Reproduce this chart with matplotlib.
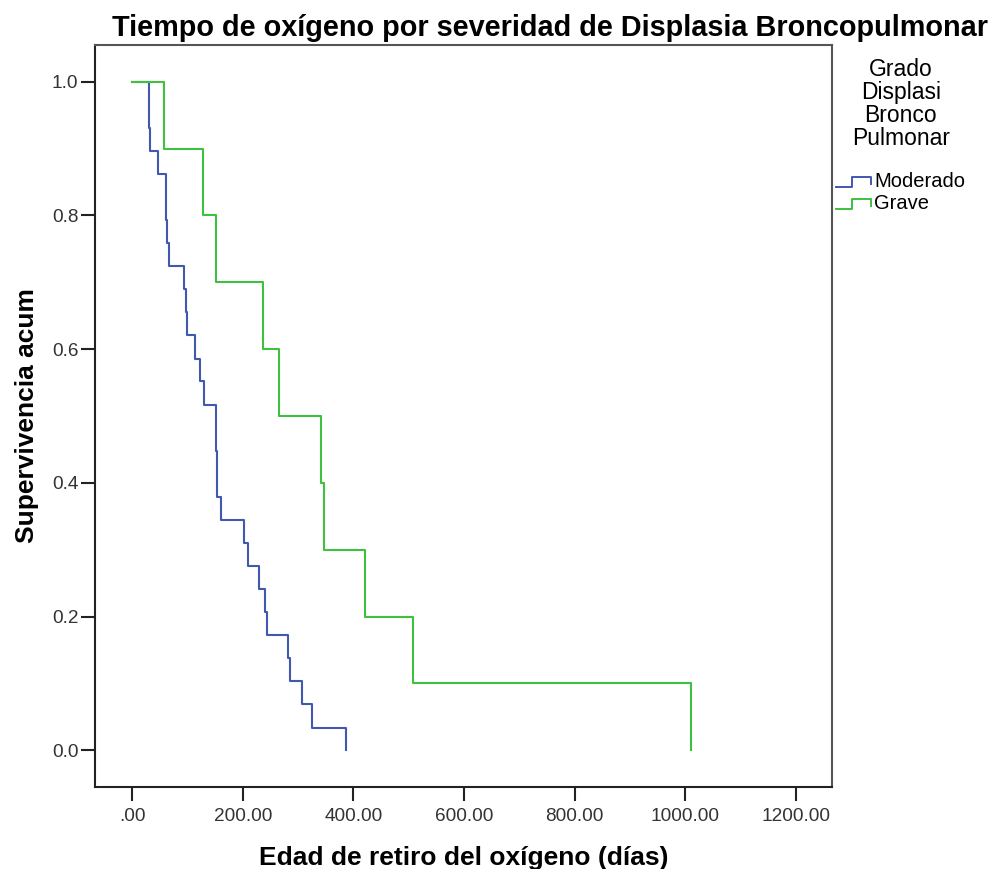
import matplotlib
matplotlib.use("Agg")
import matplotlib.pyplot as plt
from matplotlib.lines import Line2D
from matplotlib.legend_handler import HandlerBase

plt.rcParams['font.family'] = ['Liberation Sans', 'DejaVu Sans']

# Kaplan-Meier steps (days, cumulative survival)
mod_t = [0, 30, 31, 33, 47, 61, 62, 63, 66, 94, 98, 99, 114, 123, 130,
         152, 152, 153, 153, 160, 202, 209, 230, 240, 243, 281, 286, 308, 326, 386]
mod_s = [1.0, 0.966, 0.931, 0.897, 0.862, 0.828, 0.793, 0.759, 0.724, 0.690,
         0.655, 0.621, 0.586, 0.552, 0.517, 0.483, 0.448, 0.414, 0.379, 0.345,
         0.310, 0.276, 0.241, 0.207, 0.172, 0.138, 0.103, 0.069, 0.034, 0.0]

grave_t = [0, 58, 128, 152, 237, 266, 342, 346, 421, 508, 1010]
grave_s = [1.0, 0.9, 0.8, 0.7, 0.6, 0.5, 0.4, 0.3, 0.2, 0.1, 0.0]

groups = ['Moderado', 'Grave']
colors = ['#4058b0', '#3fc03f']
xticks = [0, 200, 400, 600, 800, 1000, 1200]
xticklabels = ['.00', '200.00', '400.00', '600.00', '800.00', '1000.00', '1200.00']
yticks = [0.0, 0.2, 0.4, 0.6, 0.8, 1.0]


class StepHandler(HandlerBase):
    def create_artists(self, legend, orig_handle, xd, yd, w, h, fontsize, trans):
        x0, y0 = -xd, -yd
        xs = [x0, x0 + w * 0.45, x0 + w * 0.45, x0 + w, x0 + w]
        ys = [y0 + h * 0.05, y0 + h * 0.05, y0 + h * 0.75, y0 + h * 0.75, y0 + h * 0.25]
        ln = Line2D(xs, ys, color=orig_handle.get_color(), lw=1.4, transform=trans)
        return [ln]


fig = plt.figure(figsize=(9.94, 8.69), dpi=100)
ax = fig.add_axes([95 / 994, 1 - 787 / 869, (832 - 95) / 994, (787 - 45) / 869])

h1, = ax.plot(mod_t, mod_s, drawstyle='steps-post', color=colors[0], lw=1.5)
h2, = ax.plot(grave_t, grave_s, drawstyle='steps-post', color=colors[1], lw=1.5)

ax.set_xlim(-67, 1265)
ax.set_ylim(-0.055, 1.055)
ax.set_xticks(xticks)
ax.set_xticklabels(xticklabels)
ax.set_yticks(yticks)
ax.set_yticklabels(['%.1f' % v for v in yticks])
ax.tick_params(direction='out', length=10, width=1.5, color='#222222',
               labelsize=13.7, labelcolor='#333333', pad=2)
ax.tick_params(axis='x', pad=5)
for sp in ax.spines.values():
    sp.set_linewidth(1.5)
    sp.set_color('#222222')
ax.spines['top'].set_color('#555555')
ax.spines['right'].set_color('#555555')

ax.set_xlabel('Edad de retiro del oxígeno (días)', fontsize=19, fontweight='bold', labelpad=15)
ax.set_ylabel('Supervivencia acum', fontsize=19, fontweight='bold', labelpad=9)
fig.text(550 / 994, 1 - 28 / 869, 'Tiempo de oxígeno por severidad de Displasia Broncopulmonar',
         fontsize=20.8, fontweight='bold', ha='center', va='center')

leg = ax.legend([h1, h2], groups, handler_map={Line2D: StepHandler()},
                title='Grado\nDisplasi\nBronco\nPulmonar', title_fontsize=16.5,
                fontsize=14.5, frameon=False, loc='upper left',
                bbox_to_anchor=(836 / 994, 1 - 58 / 869), bbox_transform=fig.transFigure,
                borderpad=0, borderaxespad=0, handlelength=1.75, handletextpad=0.15,
                labelspacing=0.15, alignment='center')
leg.get_title().set_multialignment('center')
leg.get_title().set_linespacing(1.0)
leg._legend_box.sep = 16

fig.savefig('out.png', dpi=100)
